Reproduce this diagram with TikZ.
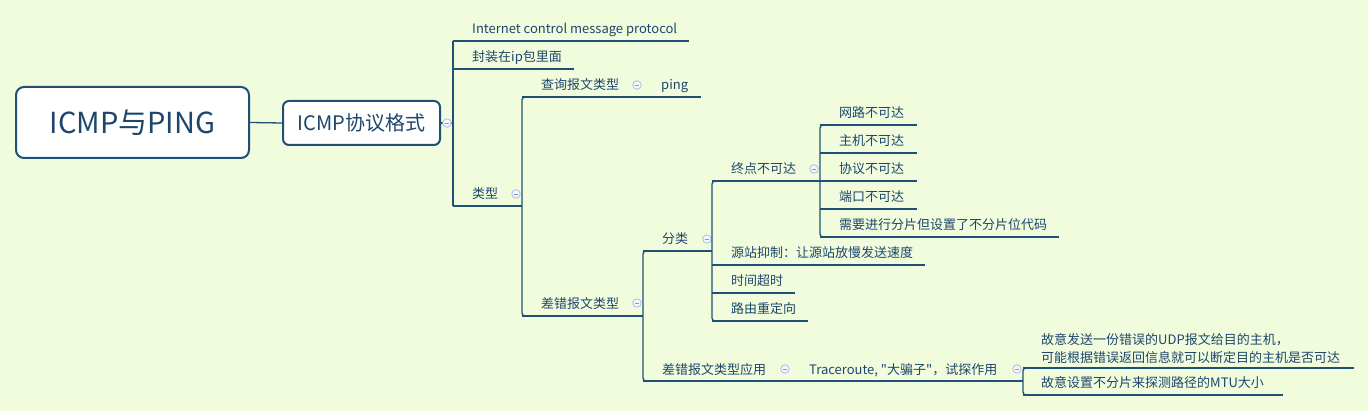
\documentclass[tikz,border=0pt]{standalone}
\usepackage{fontspec}
\setmainfont{Noto Sans CJK SC}[Ligatures=TeXOff]
\usetikzlibrary{calc}
\definecolor{mmbg}{RGB}{240,252,220}
\definecolor{mmline}{RGB}{31,80,120}
\definecolor{mmtext}{RGB}{30,70,108}
\definecolor{mmcirc}{RGB}{178,194,230}
\definecolor{mmminus}{RGB}{135,150,200}
\definecolor{mmfill}{RGB}{246,249,252}
\tikzset{
  conn/.style={draw=mmline, line width=1.3pt},
  trunk/.style={conn, rounded corners=3pt},
  topic/.style={inner sep=0pt, anchor=base west, text=mmtext, font=\fontsize{13}{18}\selectfont},
  multitopic/.style={inner sep=0pt, anchor=south west, text=mmtext, align=left, font=\fontsize{13}{18}\selectfont},
  fold/.style={circle, minimum size=8.5pt, inner sep=0pt, draw=mmcirc, fill=mmfill, line width=0.9pt,
    path picture={\draw[draw=mmminus, line width=0.9pt] ([xshift=-2.3pt]path picture bounding box.center) -- ([xshift=2.3pt]path picture bounding box.center);}},
  rootbox/.style={draw=mmline, line width=2pt, fill=white, rounded corners=8pt, text=mmtext,
    minimum width=233pt, minimum height=71pt, inner sep=0pt, font=\fontsize{29}{32}\selectfont},
  subbox/.style={draw=mmline, line width=2pt, fill=white, rounded corners=6pt, text=mmtext,
    minimum width=157pt, minimum height=44pt, inner sep=0pt, font=\fontsize{20}{24}\selectfont},
}
\begin{document}
\begin{tikzpicture}[x=1pt,y=-1pt]
\useasboundingbox[fill=mmbg] (0,0) rectangle (1368,411);

% central topics
\node[rootbox] (root) at (132.5,122.5) {ICMP与PING};
\node[subbox] (fmt) at (361.5,123) {ICMP协议格式};
\draw[conn] (root.east) -- (fmt.west);
\coordinate (t1) at (453,123);
\draw[conn] (fmt.east) -- (t1);
\node[fold] (f0) at (447,123) {};

% trunk 1
\draw[conn] (453,41) -- (453,206);
\node[topic] (inet) at (472,34) {Internet control message protocol};
\draw[conn] (453,41) -- ($(inet.base east)+(12,7)$);
\node[topic] (encap) at (472,62) {封装在ip包里面};
\draw[conn] (453,69) -- ($(encap.base east)+(12,7)$);
\node[topic] (types) at (472,199) {类型};
\coordinate (t2) at (522,206);
\draw[conn] (453,206) -- (t2);
\node[fold] (f1) at (516,194) {};

% trunk 2
\draw[trunk] (532,97) -- (522,97) -- (522,316) -- (532,316);
\node[topic] (query) at (541,90) {查询报文类型};
\node[fold] (f2) at (637,85) {};
\node[topic] (ping) at (661,90) {ping};
\draw[conn] (522,97) -- ($(ping.base east)+(13,7)$);
\node[topic] (err) at (541,309) {差错报文类型};
\node[fold] (f3) at (637,303) {};
\coordinate (t3) at (643,316);
\draw[conn] (522,316) -- (t3);

% trunk 3
\draw[trunk] (653,251) -- (643,251) -- (643,381) -- (653,381);
\node[topic] (cls) at (662,244) {分类};
\node[fold] (f4) at (707,239) {};
\coordinate (t4) at (712,251);
\draw[conn] (643,251) -- (t4);
\node[topic] (app) at (662,374) {差错报文类型应用};
\node[fold] (f5) at (785,369) {};
\node[topic] (trace) at (809,374) {Traceroute, "大骗子"，试探作用};
\node[fold] (f6) at (1017,369) {};
\coordinate (t6) at (1023,381);
\draw[conn] (643,381) -- (t6);

% trunk 4
\draw[trunk] (722,181) -- (712,181) -- (712,321) -- (722,321);
\node[topic] (dest) at (731,174) {终点不可达};
\node[fold] (f7) at (814,169) {};
\coordinate (t5) at (820,181);
\draw[conn] (712,181) -- (t5);
\node[topic] (src) at (731,258) {源站抑制：让源站放慢发送速度};
\draw[conn] (712,265) -- ($(src.base east)+(12,7)$);
\node[topic] (tout) at (731,286) {时间超时};
\draw[conn] (712,293) -- ($(tout.base east)+(12,7)$);
\node[topic] (redir) at (731,314) {路由重定向};
\draw[conn] (712,321) -- ($(redir.base east)+(12,7)$);

% trunk 5
\draw[trunk] (830,125) -- (820,125) -- (820,237) -- (830,237);
\node[topic] (net) at (839,118) {网路不可达};
\draw[conn] (820,125) -- ($(net.base east)+(13,7)$);
\node[topic] (host) at (839,146) {主机不可达};
\draw[conn] (820,153) -- ($(host.base east)+(13,7)$);
\node[topic] (proto) at (839,174) {协议不可达};
\draw[conn] (820,181) -- ($(proto.base east)+(13,7)$);
\node[topic] (port) at (839,202) {端口不可达};
\draw[conn] (820,209) -- ($(port.base east)+(13,7)$);
\node[topic] (frag) at (839,230) {需要进行分片但设置了不分片位代码};
\draw[conn] (820,237) -- ($(frag.base east)+(12,7)$);

% trunk 6
\draw[trunk] (1033,368) -- (1023,368) -- (1023,395) -- (1033,395);
\node[multitopic] (udp) at (1041,363.5) {故意发送一份错误的UDP报文给目的主机，\\可能根据错误返回信息就可以断定目的主机是否可达};
\draw[conn] (1023,368) -- ($(udp.south east)+(14,4.5)$);
\node[topic] (mtu) at (1041,388) {故意设置不分片来探测路径的MTU大小};
\draw[conn] (1023,395) -- ($(mtu.base east)+(19,7)$);
\end{tikzpicture}
\end{document}
